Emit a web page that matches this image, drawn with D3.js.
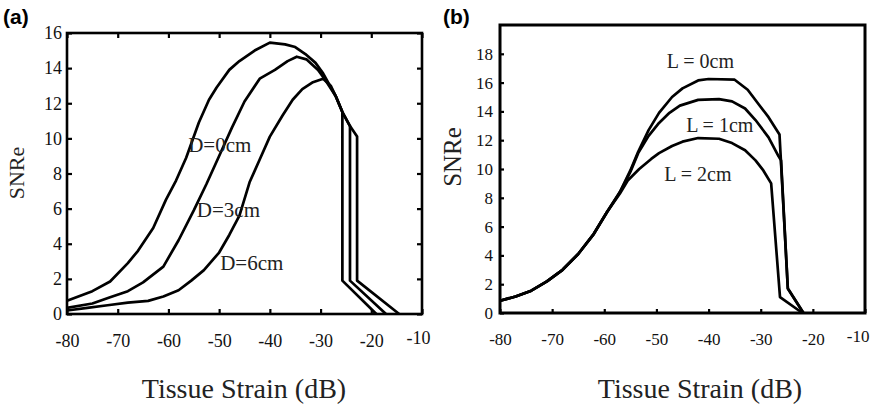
<!DOCTYPE html>
<html>
<head>
<meta charset="utf-8">
<script src="https://cdnjs.cloudflare.com/ajax/libs/d3/7.8.5/d3.min.js"></script>
<style>
  body { margin: 0; background: #fff; }
  svg { display: block; }
</style>
</head>
<body>
<svg id="chart" width="877" height="411"></svg>
<script>
// ---- data ----
var xTicks = [-80, -70, -60, -50, -40, -30, -20, -10];
var yTicksA = [0, 2, 4, 6, 8, 10, 12, 14, 16];
var yTicksB = [0, 2, 4, 6, 8, 10, 12, 14, 16, 18];

// panel (a): SNRe vs strain for depth D
var seriesD0 = [[-80,0.75],[-75,1.3],[-71.5,1.85],[-68,2.9],[-66,3.6],[-63,4.9],[-60.5,6.5],[-58.5,7.6],[-56.5,8.9],[-54,10.9],[-52,12.2],[-50.5,12.9],[-48,13.9],[-46,14.4],[-43,15.0],[-40,15.45],[-37,15.35],[-35,15.2],[-33,14.8],[-31,14.3],[-29.5,13.7],[-27,12.4],[-25.7,11.5],[-24.2,10.7],[-22.8,10.1],[-22.8,1.9],[-14.5,0]];
var seriesD3 = [[-80,0.35],[-75,0.6],[-71.5,0.95],[-68,1.3],[-65,1.8],[-61,2.7],[-58,4.2],[-55,5.9],[-52.5,7.4],[-50,9.0],[-47.5,10.6],[-45,12.1],[-42,13.4],[-39,13.9],[-36.5,14.4],[-34.7,14.65],[-32.8,14.5],[-30.5,13.9],[-29,13.3],[-27,12.4],[-25.7,11.5],[-24.2,10.7],[-24.2,1.9],[-17.1,0]];
var seriesD6 = [[-80,0.2],[-76,0.35],[-72,0.5],[-68,0.65],[-64,0.75],[-61,1.0],[-58,1.35],[-55.5,1.9],[-53,2.5],[-50,3.5],[-48,4.5],[-46,5.6],[-44,7.5],[-42,8.8],[-40,10.1],[-37.5,11.3],[-35.5,12.2],[-33.6,12.8],[-31.5,13.2],[-29.5,13.4],[-28,13.0],[-27,12.4],[-25.7,11.5],[-25.7,1.9],[-19,0]];

// panel (b): SNRe vs strain for lesion offset L
var seriesL0 = [[-80,0.85],[-77,1.15],[-74,1.55],[-71,2.2],[-68,3.0],[-65,4.1],[-62,5.5],[-59.5,7.0],[-57,8.4],[-55,9.9],[-53.5,11.2],[-51.5,12.7],[-49.5,13.9],[-47,15.0],[-45,15.6],[-42,16.15],[-40,16.25],[-35,16.2],[-32.5,15.5],[-30.4,14.5],[-28.5,13.6],[-26.4,12.4],[-24.8,1.7],[-21.8,0]];
var seriesL1 = [[-80,0.85],[-77,1.15],[-74,1.55],[-71,2.2],[-68,3.0],[-65,4.1],[-62,5.5],[-59.5,7.0],[-57,8.4],[-55,9.8],[-53.5,11.1],[-51.5,12.3],[-49.5,13.2],[-47.5,13.9],[-45.5,14.4],[-42,14.8],[-38,14.85],[-35.5,14.7],[-33,14.2],[-31,13.4],[-28.5,12.2],[-26.6,10.9],[-26.1,10.6],[-24.8,1.7],[-21.8,0]];
var seriesL2 = [[-80,0.85],[-77,1.15],[-74,1.55],[-71,2.2],[-68,3.0],[-65,4.1],[-62,5.5],[-59.5,7.0],[-57,8.3],[-55.5,9.2],[-53.3,10.0],[-51,10.7],[-49.5,11.1],[-47,11.6],[-45,11.9],[-42,12.15],[-38,12.1],[-35.5,11.8],[-33,11.3],[-31,10.6],[-29.5,9.9],[-28,9.0],[-26.3,1.1],[-22,0]];

var labelsA = [{ text: 'D=0cm', x: -56.1, y: 9.2 }, { text: 'D=3cm', x: -54.4, y: 5.5 }, { text: 'D=6cm', x: -49.8, y: 2.5 }];
var labelsB = [{ text: 'L = 0cm', x: -48.0, y: 17.0 }, { text: 'L = 1cm', x: -44.3, y: 12.55 }, { text: 'L = 2cm', x: -48.5, y: 9.2 }];

var svg = d3.select('#chart');
var serif = 'Liberation Serif, Times New Roman, serif';

function panel(opt) {
    var g = svg.append('g').attr('id', opt.id);

    var x = d3.scaleLinear().domain([-80, -10]).range([opt.left, opt.right]);
    var y = d3.scaleLinear().domain(opt.yDomain).range([opt.bottom, opt.top]);
    var plain = function(d) { return String(d); };   // hyphen minus, like the scan

    // inward ticks + labels
    var xAxisG = g.append('g')
        .attr('class', 'xaxis')
        .attr('transform', 'translate(0,' + opt.bottom + ')')
        .call(d3.axisBottom(x).tickValues(xTicks).tickSize(-opt.tick).tickPadding(opt.xPad).tickFormat(plain));
    var yAxisG = g.append('g')
        .attr('transform', 'translate(' + opt.left + ',0)')
        .call(d3.axisLeft(y).tickValues(opt.yTicks).tickSize(-opt.tick).tickPadding(opt.yPad).tickFormat(plain));

    // the axis sets its own sans font on the group; override it there
    [xAxisG, yAxisG].forEach(function(a) {
        a.attr('font-family', serif).attr('font-size', opt.tickFont);
    });

    if (opt.allSides) {
        g.append('g')
            .attr('transform', 'translate(0,' + opt.top + ')')
            .call(d3.axisTop(x).tickValues(xTicks).tickSize(-opt.tick).tickFormat(''));
        g.append('g')
            .attr('transform', 'translate(' + opt.right + ',0)')
            .call(d3.axisRight(y).tickValues(opt.yTicks).tickSize(-opt.tick).tickFormat(''));
    }

    g.selectAll('.domain').remove();
    g.selectAll('.tick line').attr('stroke', '#000').attr('stroke-width', 2.2);
    g.selectAll('.tick text').attr('fill', '#111');
    // last x label sits left of its tick in the scan
    xAxisG.selectAll('.tick text').filter(function(d) { return d === -10; })
        .attr('text-anchor', 'end').attr('dx', opt.lastDx).attr('dy', '0.55em');

    // frame
    g.append('rect')
        .attr('x', opt.left).attr('y', opt.top)
        .attr('width', opt.right - opt.left).attr('height', opt.bottom - opt.top)
        .attr('fill', 'none').attr('stroke', '#000').attr('stroke-width', opt.frame);

    var line = d3.line()
        .x(function(d) { return x(d[0]); })
        .y(function(d) { return y(d[1]); });

    g.selectAll('path.curve').data(opt.series).enter().append('path')
        .attr('class', 'curve')
        .attr('d', line)
        .attr('fill', 'none')
        .attr('stroke', '#000')
        .attr('stroke-width', 2.7)
        .attr('stroke-linejoin', 'round');

    g.selectAll('text.note').data(opt.labels).enter().append('text')
        .attr('class', 'note')
        .attr('x', function(d) { return x(d.x); })
        .attr('y', function(d) { return y(d.y); })
        .attr('font-family', serif)
        .attr('font-size', opt.noteFont)
        .attr('fill', '#222')
        .text(function(d) { return d.text; });

    // axis titles
    g.append('text')
        .attr('transform', 'translate(' + opt.yTitleX + ',' + opt.yTitleY + ') rotate(-90)')
        .attr('text-anchor', 'middle')
        .attr('font-family', serif)
        .attr('font-size', opt.yTitleFont)
        .attr('fill', '#222')
        .text('SNRe');
    g.append('text')
        .attr('x', opt.xTitleX).attr('y', 398)
        .attr('text-anchor', 'middle')
        .attr('font-family', serif)
        .attr('font-size', 28)
        .attr('fill', '#222')
        .text('Tissue Strain (dB)');

    g.append('text')
        .attr('x', opt.tagX).attr('y', 24)
        .attr('font-family', 'Liberation Sans, Arial, sans-serif')
        .attr('font-weight', 'bold')
        .attr('font-size', 21)
        .attr('fill', '#000')
        .text(opt.tag);
}

panel({
    id: 'panelA', tag: '(a)', tagX: 3,
    left: 67, right: 422, top: 33, bottom: 314,
    yDomain: [0, 16], yTicks: yTicksA, allSides: true,
    tick: 5, xPad: 20, yPad: 5, tickFont: 18, frame: 2.6, lastDx: 8,
    series: [seriesD0, seriesD3, seriesD6], labels: labelsA, noteFont: 21,
    yTitleX: 24, yTitleY: 173, yTitleFont: 22, xTitleX: 244
});

panel({
    id: 'panelB', tag: '(b)', tagX: 443,
    left: 500, right: 865, top: 25, bottom: 313,
    yDomain: [0, 20], yTicks: yTicksB, allSides: false,
    tick: 4, xPad: 20, yPad: 7, tickFont: 17, frame: 3, lastDx: 4,
    series: [seriesL0, seriesL1, seriesL2], labels: labelsB, noteFont: 20,
    yTitleX: 461, yTitleY: 157, yTitleFont: 25, xTitleX: 700
});
</script>
</body>
</html>
